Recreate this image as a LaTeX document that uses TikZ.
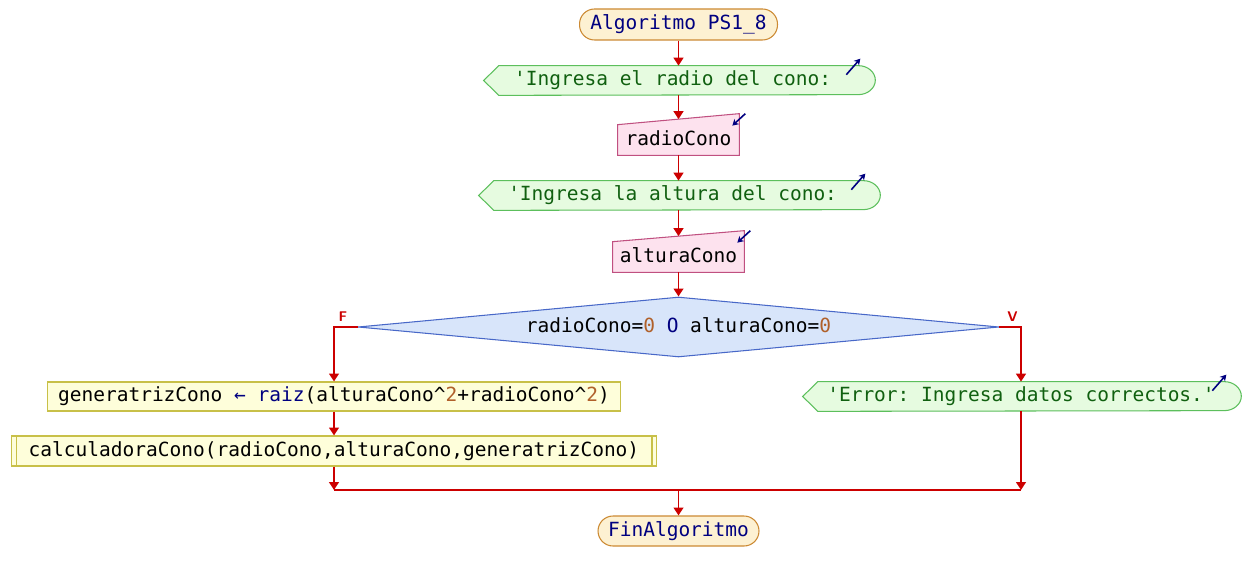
\documentclass[tikz,border=0pt]{standalone}
\usepackage{fontspec}
\setmonofont{DejaVu Sans Mono}
\usetikzlibrary{calc,arrows.meta,shapes.geometric,backgrounds}

\definecolor{flujo}{HTML}{CC0000}
\definecolor{clave}{HTML}{000080}
\definecolor{numero}{HTML}{B0602A}
\definecolor{textoSalida}{HTML}{106010}
\definecolor{bordeInicio}{HTML}{CC8A33}
\definecolor{fondoInicio}{HTML}{FDF1D2}
\definecolor{bordeSalida}{HTML}{5CBF5C}
\definecolor{fondoSalida}{HTML}{E6FBE0}
\definecolor{bordeEntrada}{HTML}{C05080}
\definecolor{fondoEntrada}{HTML}{FDE2EE}
\definecolor{bordeDecision}{HTML}{4868C8}
\definecolor{fondoDecision}{HTML}{D8E5FA}
\definecolor{bordeProceso}{HTML}{C8C048}
\definecolor{fondoProceso}{HTML}{FEFEDA}

\tikzset{
	texto/.style={font=\ttfamily\fontsize{11.1}{13}\selectfont, inner sep=0pt, text height=8.3pt, text depth=2.5pt},
	inicio/.style={texto, text=clave, draw=bordeInicio, fill=fondoInicio, rounded corners=0.3cm, line width=0.6pt, minimum height=0.62cm},
	salida/.style={texto, text=textoSalida, minimum height=0.58cm},
	entrada/.style={texto, minimum height=0.6cm},
	decision/.style={texto, diamond, aspect=10.7, draw=bordeDecision, fill=fondoDecision, line width=0.6pt, minimum width=12.82cm, minimum height=1.2cm},
	proceso/.style={texto, draw=bordeProceso, fill=fondoProceso, line width=0.6pt, minimum height=0.58cm},
	flecha/.style={draw=flujo, line width=1.1pt, -{Triangle[length=4.5pt,width=5.5pt]}},
	linea/.style={draw=flujo, line width=1.1pt},
	icono/.style={draw=clave, line width=0.9pt, -{Stealth[length=3.5pt,width=4pt]}},
	etiqueta/.style={font=\sffamily\bfseries\fontsize{8}{9}\selectfont, text=flujo, inner sep=0pt}
}

% salida: punta a la izquierda, redondeada a la derecha
\def\salidaforma(#1){%
	\begin{pgfonlayer}{background}
		\draw[draw=bordeSalida, fill=fondoSalida, line width=0.6pt] (#1.north west) -- (#1.north east) arc (90:-90:0.34cm and 0.29cm) -- (#1.south west) -- ($(#1.west)+(-15,0)$) -- cycle;
	\end{pgfonlayer}
	\draw[icono] ($(#1.north east)+(-12,-9)$) -- ($(#1.north east)+(2,7)$);
}
% entrada: borde superior inclinado
\def\entradaforma(#1){%
	\begin{pgfonlayer}{background}
		\draw[draw=bordeEntrada, fill=fondoEntrada, line width=0.6pt] (#1.south west) -- (#1.north west) -- ($(#1.north east)+(0,11)$) -- (#1.south east) -- cycle;
	\end{pgfonlayer}
	\draw[icono] ($(#1.north east)+(6,11)$) -- ($(#1.north east)+(-7,-1)$);
}
% subproceso: lineas dobles a los lados
\def\subforma(#1){%
	\draw[draw=bordeProceso, line width=0.6pt] ($(#1.north west)+(5.5,0)$) -- ($(#1.south west)+(5.5,0)$);
	\draw[draw=bordeProceso, line width=0.6pt] ($(#1.north east)+(-5.5,0)$) -- ($(#1.south east)+(-5.5,0)$);
}

\begin{document}
\begin{tikzpicture}[x=0.02cm, y=0.02cm]
	%%%%% START %%%%%
	
	\begin{pgfonlayer}{background}
		\path[fill=white] (0,0) rectangle (1260,582);
	\end{pgfonlayer}
	\useasboundingbox (0,0) rectangle (1260,582);
	
	\node[inicio, minimum width=3.96cm] (inicio) at (678.5,557.5) {Algoritmo PS1\_8};
	
	\node[salida, minimum width=7.18cm] (sal1) at (678.5,501.5) {'Ingresa el radio del cono:\hphantom{x}};
	\salidaforma(sal1)
	\node[entrada, minimum width=2.42cm] (ent1) at (678.5,442) {radioCono};
	\entradaforma(ent1)
	
	\node[salida, minimum width=7.38cm] (sal2) at (678.5,386.5) {'Ingresa la altura del cono:\hphantom{x}};
	\salidaforma(sal2)
	\node[entrada, minimum width=2.62cm] (ent2) at (678.5,325) {alturaCono};
	\entradaforma(ent2)
	
	\node[decision] (cond) at (678.5,255) {radioCono={\color{numero}0} {\color{clave}O} alturaCono={\color{numero}0}};
	\node[etiqueta, anchor=south] (etF) at ($(cond.west)+(-14.5,5)$) {F};
	\node[etiqueta, anchor=south] (etV) at ($(cond.east)+(13,5)$) {V};
	
	\node[proceso, minimum width=11.48cm] (asig) at (334,185.5) {generatrizCono {\color{clave}←} {\color{clave}raiz}(alturaCono\textasciicircum{\color{numero}2}+radioCono\textasciicircum{\color{numero}2})};
	\node[proceso, minimum width=12.92cm, minimum height=0.6cm] (llamada) at (334,131) {calculadoraCono(radioCono,alturaCono,generatrizCono)};
	\subforma(llamada)
	
	\node[salida, minimum width=8.12cm] (sal3) at (1021,185.5) {'Error: Ingresa datos correctos.'};
	\salidaforma(sal3)
	
	\coordinate (union) at (678.5,92);
	\node[inicio, minimum width=3.22cm, minimum height=0.6cm] (fin) at (678.5,51) {FinAlgoritmo};
	
	% conectores
	\draw[flecha] (inicio.south) -- (sal1.north);
	\draw[flecha, shorten >=0.11cm] (sal1.south) -- (ent1.north);
	\draw[flecha] (ent1.south) -- (sal2.north);
	\draw[flecha, shorten >=0.11cm] (sal2.south) -- (ent2.north);
	\draw[flecha] (ent2.south) -- (cond.north);
	\draw[flecha] (cond.west) -| (asig.north);
	\draw[flecha] (cond.east) -| (sal3.north);
	\draw[flecha] (asig.south) -- (llamada.north);
	\draw[flecha] (llamada.south) -- (llamada.south |- union);
	\draw[flecha] (sal3.south) -- (sal3.south |- union);
	\draw[linea] (llamada.south |- union) -- (sal3.south |- union);
	\draw[flecha] (union) -- (fin.north);
	
	%%%%% END %%%%%
\end{tikzpicture}
\end{document}
